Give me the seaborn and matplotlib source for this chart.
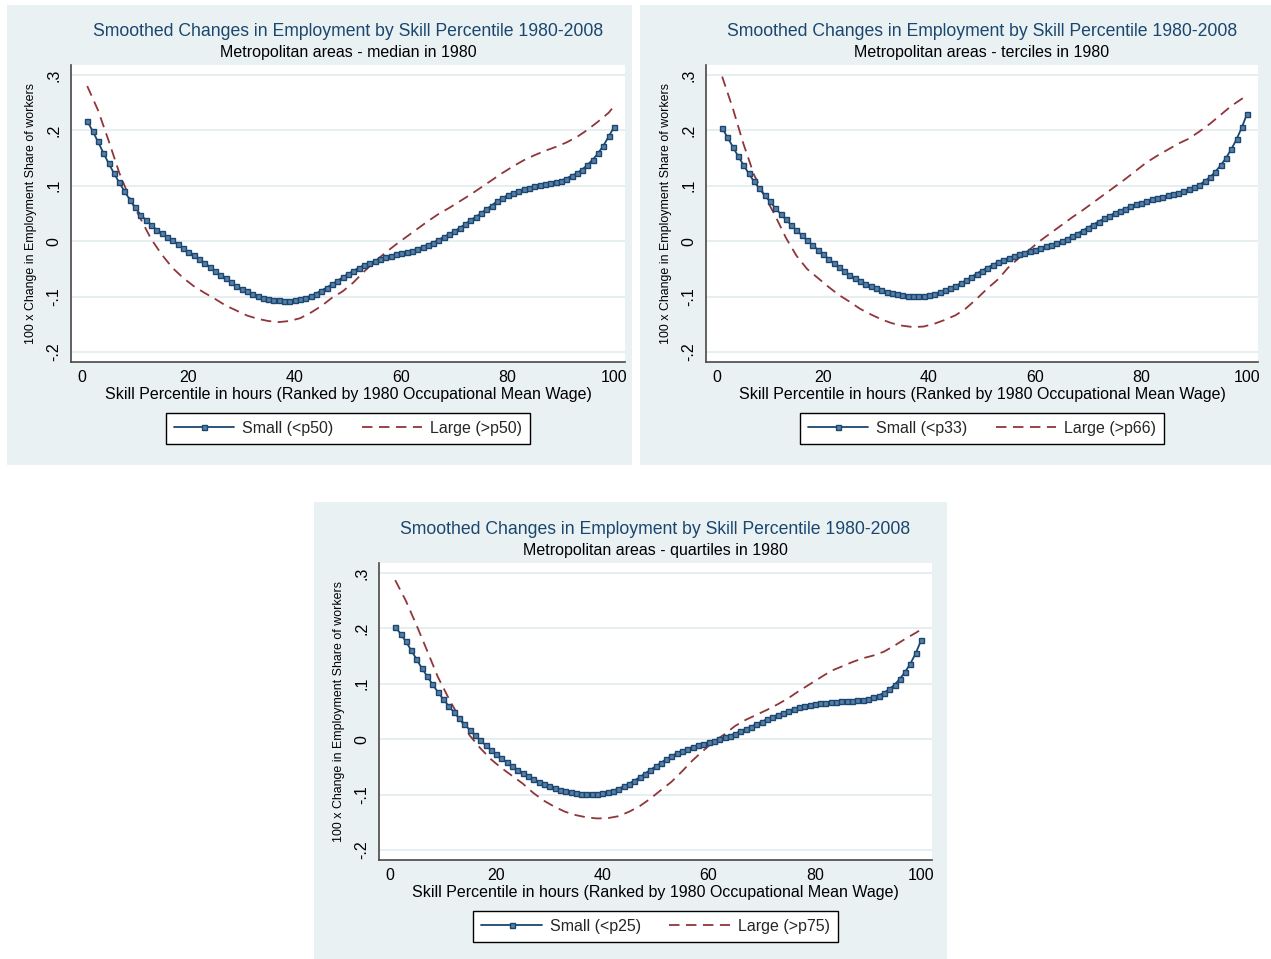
import matplotlib
matplotlib.use("Agg")
import matplotlib.pyplot as plt
import pandas as pd
import seaborn as sns
from matplotlib.patches import Rectangle
from matplotlib.lines import Line2D

sns.set_theme(style="white")
plt.rcParams['font.family'] = ['Liberation Sans', 'DejaVu Sans']

# Skill percentiles (x values)
pct_small = list(range(1, 101))
pct_large = list(range(1, 100, 2)) + [100]

# Metropolitan areas split at the 1980 median
small_p50 = [
    0.217, 0.199, 0.180, 0.160, 0.141, 0.123, 0.106, 0.090, 0.075, 0.061,
    0.048, 0.0385, 0.0295, 0.021, 0.014, 0.0072, 0.0018, -0.0048, -0.012, -0.0187,
    -0.0247, -0.032, -0.039, -0.046, -0.0536, -0.061, -0.067, -0.074, -0.0806, -0.0855,
    -0.090, -0.0945, -0.098, -0.1017, -0.104, -0.106, -0.107, -0.1077, -0.1077, -0.1065,
    -0.1047, -0.1017, -0.0987, -0.0945, -0.089, -0.0836, -0.0776, -0.0716, -0.065, -0.0593,
    -0.0536, -0.048, -0.0433, -0.0397, -0.036, -0.0325, -0.0289, -0.0259, -0.0235, -0.0217,
    -0.0193, -0.0169, -0.0139, -0.0103, -0.006, -0.0024, 0.0024, 0.0078, 0.0126, 0.018,
    0.024, 0.0307, 0.0379, 0.0439, 0.0505, 0.0578, 0.0644, 0.0722, 0.0776, 0.083,
    0.0872, 0.0908, 0.0944, 0.0969, 0.0993, 0.1011, 0.1029, 0.1047, 0.107, 0.1095,
    0.1131, 0.118, 0.1227, 0.1294, 0.1378, 0.1474, 0.1588, 0.1727, 0.189, 0.2063,
]
large_p50 = [
    0.280, 0.237, 0.182, 0.124, 0.077, 0.041, 0.004, -0.024, -0.048, -0.066,
    -0.081, -0.093, -0.104, -0.116, -0.125, -0.134, -0.140, -0.144, -0.146, -0.144,
    -0.139, -0.129, -0.117, -0.102, -0.0905, -0.0746, -0.055, -0.037, -0.021, -0.006,
    0.008, 0.022, 0.036, 0.049, 0.060, 0.072, 0.084, 0.097, 0.110, 0.123,
    0.135, 0.146, 0.155, 0.163, 0.170, 0.178, 0.188, 0.201, 0.216, 0.232,
    0.244,
]

# Metropolitan areas split into 1980 terciles
small_p33 = [
    0.2042, 0.1874, 0.1705, 0.1536, 0.138, 0.1223, 0.1078, 0.0952, 0.0825, 0.0717,
    0.0602, 0.0494, 0.0392, 0.0295, 0.0199, 0.0108, 0.0018, -0.0066, -0.015, -0.0235,
    -0.0313, -0.0392, -0.0464, -0.0536, -0.0609, -0.0663, -0.0717, -0.0771, -0.0813, -0.0849,
    -0.0886, -0.0916, -0.094, -0.0958, -0.0976, -0.0982, -0.0988, -0.0988, -0.0982, -0.0968,
    -0.0946, -0.0922, -0.0886, -0.0849, -0.0807, -0.0759, -0.0705, -0.0645, -0.0584, -0.053,
    -0.0476, -0.0428, -0.038, -0.0337, -0.0301, -0.0271, -0.0235, -0.0205, -0.0181, -0.0151,
    -0.012, -0.009, -0.0066, -0.0036, 0.0, 0.0042, 0.009, 0.0139, 0.0193, 0.0247,
    0.0301, 0.0355, 0.041, 0.0458, 0.0506, 0.0548, 0.059, 0.0627, 0.0663, 0.0693,
    0.0723, 0.0753, 0.0777, 0.0801, 0.0825, 0.0849, 0.0874, 0.0904, 0.0934, 0.097,
    0.1018, 0.1084, 0.1157, 0.1253, 0.1368, 0.150, 0.1657, 0.1838, 0.2054, 0.2301,
]
large_p66 = [
    0.297, 0.240, 0.176, 0.120, 0.082, 0.046, 0.0065, -0.026, -0.050, -0.066,
    -0.082, -0.097, -0.109, -0.122, -0.132, -0.141, -0.148, -0.1525, -0.155, -0.154,
    -0.149, -0.142, -0.1337, -0.121, -0.104, -0.0855, -0.069, -0.047, -0.030, -0.015,
    0.001, 0.015, 0.029, 0.043, 0.056, 0.070, 0.084, 0.098, 0.112, 0.127,
    0.142, 0.154, 0.165, 0.176, 0.185, 0.198, 0.212, 0.228, 0.244, 0.257,
    0.262,
]

# Metropolitan areas split into 1980 quartiles
small_p25 = [
    0.203, 0.1903, 0.1764, 0.1608, 0.1446, 0.1283, 0.1139, 0.0994, 0.0855, 0.0728,
    0.0608, 0.0493, 0.038, 0.0282, 0.0168, 0.0072, -0.0018, -0.0108, -0.0193, -0.0271,
    -0.0343, -0.0416, -0.0482, -0.0549, -0.0609, -0.0663, -0.0717, -0.0766, -0.0813, -0.085,
    -0.0886, -0.0916, -0.094, -0.0958, -0.0976, -0.0988, -0.0994, -0.0994, -0.0988, -0.0976,
    -0.0952, -0.0928, -0.0893, -0.085, -0.0802, -0.0748, -0.0687, -0.0621, -0.0555, -0.0492,
    -0.0428, -0.0361, -0.0307, -0.0253, -0.0211, -0.0175, -0.0139, -0.0108, -0.0079, -0.0054,
    -0.0031, 0.0, 0.0036, 0.0065, 0.0101, 0.0145, 0.0186, 0.0228, 0.0271, 0.0318,
    0.0361, 0.0403, 0.0439, 0.0475, 0.0511, 0.0548, 0.0578, 0.0602, 0.062, 0.0638,
    0.0651, 0.0662, 0.0674, 0.068, 0.0687, 0.0692, 0.0698, 0.0705, 0.0716, 0.0734,
    0.0759, 0.0788, 0.0837, 0.0904, 0.0981, 0.109, 0.1216, 0.1366, 0.1554, 0.1782,
]
large_p75 = [
    0.287, 0.250, 0.206, 0.160, 0.113, 0.075, 0.040, 0.007, -0.016, -0.036,
    -0.052, -0.066, -0.080, -0.097, -0.111, -0.122, -0.131, -0.137, -0.141, -0.143,
    -0.1425, -0.139, -0.131, -0.121, -0.1075, -0.092, -0.077, -0.058, -0.038, -0.0206,
    -0.004, 0.009, 0.024, 0.035, 0.044, 0.053, 0.063, 0.074, 0.087, 0.099,
    0.111, 0.123, 0.131, 0.139, 0.146, 0.151, 0.158, 0.169, 0.181, 0.192,
    0.198,
]

title_text = "Smoothed Changes in Employment by Skill Percentile 1980-2008"
subtitles = ["Metropolitan areas - median in 1980",
             "Metropolitan areas - terciles in 1980",
             "Metropolitan areas - quartiles in 1980"]
small_labels = ["Small (<p50)", "Small (<p33)", "Small (<p25)"]
large_labels = ["Large (>p50)", "Large (>p66)", "Large (>p75)"]
x_title = "Skill Percentile in hours (Ranked by 1980 Occupational Mean Wage)"
y_title = "100 x Change in Employment Share of workers"
x_ticks = [0, 20, 40, 60, 80, 100]
y_ticks = [-0.2, -0.1, 0.0, 0.1, 0.2, 0.3]
y_ticklabels = ["-.2", "-.1", "0", ".1", ".2", ".3"]

NAVY = "#1a476f"
MAROON = "#90353b"
MARKER_FACE = "#5a7ea6"
BG = "#eaf1f3"
GRID = "#e6eef0"
AXIS = "#484848"

W, H = 1271, 959
fig = plt.figure(figsize=(W / 100, H / 100), dpi=100, facecolor="white")


def fx(px):
    return px / W


def fy(py):
    return 1 - py / H


# pixel layout of each graph: background box and plot region (left, top, right, bottom)
layouts = [
    dict(bg=(7, 5, 632, 465), plot=(71, 65, 625, 362)),
    dict(bg=(640, 5, 1271, 465), plot=(706, 65, 1258, 362)),
    dict(bg=(314, 502, 947, 959), plot=(379, 563, 932, 860)),
]
series = [
    (small_p50, large_p50),
    (small_p33, large_p66),
    (small_p25, large_p75),
]

for i, (lay, (small, large)) in enumerate(zip(layouts, series)):
    bx0, by0, bx1, by1 = lay["bg"]
    fig.patches.append(Rectangle((fx(bx0), fy(by1)), (bx1 - bx0) / W, (by1 - by0) / H,
                                 transform=fig.transFigure, facecolor=BG,
                                 edgecolor="none", zorder=-5))
    l, t, r, b = lay["plot"]
    ax = fig.add_axes([fx(l), fy(b), (r - l) / W, (b - t) / H])
    ax.set_zorder(2)
    ax.set_facecolor("white")

    df_small = pd.DataFrame({"pct": pct_small, "val": small})
    df_large = pd.DataFrame({"pct": pct_large, "val": large})

    sns.lineplot(data=df_large, x="pct", y="val", ax=ax, color=MAROON,
                 linewidth=1.3, legend=False, zorder=3)
    ax.lines[-1].set_dashes([5.8, 3.6])
    sns.lineplot(data=df_small, x="pct", y="val", ax=ax, color=NAVY,
                 linewidth=1.3, marker="s", markersize=3.6,
                 markerfacecolor=MARKER_FACE, markeredgecolor=NAVY,
                 markeredgewidth=1.0, legend=False, zorder=4)

    ax.set_xlim(-2.05, 102.05)
    ax.set_ylim(-0.218, 0.318)
    ax.set_xticks(x_ticks)
    ax.set_xticklabels([str(v) for v in x_ticks], fontsize=11.5)
    ax.set_yticks(y_ticks)
    ax.set_yticklabels(y_ticklabels, fontsize=11.5, rotation=90, va="center")
    ax.tick_params(axis="both", direction="out", length=3.5, width=1.0,
                   color=AXIS, labelcolor="black")
    ax.tick_params(axis="x", pad=2.5)
    ax.tick_params(axis="y", pad=3.5)
    ax.set_xlabel("")
    ax.set_ylabel("")
    ax.yaxis.grid(True, color=GRID, linewidth=1.4)
    ax.xaxis.grid(False)
    ax.set_axisbelow(True)
    for side in ("top", "right"):
        ax.spines[side].set_visible(False)
    for side in ("left", "bottom"):
        ax.spines[side].set_color(AXIS)
        ax.spines[side].set_linewidth(1.2)

    cx = (l + r) / 2
    fig.text(fx(cx), fy(t - 34), title_text, ha="center", va="center",
             fontsize=12.7, color=NAVY)
    fig.text(fx(cx), fy(t - 12), subtitles[i], ha="center", va="center",
             fontsize=11.5, color="black")
    fig.text(fx(cx), fy(b + 32.5), x_title, ha="center", va="center",
             fontsize=11.5, color="black")
    fig.text(fx(l - 40), fy((t + b) / 2), y_title, ha="center", va="center",
             rotation=90, fontsize=8.9, color="black")

    handles = [
        Line2D([], [], color=NAVY, linewidth=1.3, marker="s", markersize=3.6,
               markerfacecolor=MARKER_FACE, markeredgecolor=NAVY, markeredgewidth=1.0),
        Line2D([], [], color=MAROON, linewidth=1.3, dashes=[5.8, 3.6]),
    ]
    leg = fig.legend(handles, [small_labels[i], large_labels[i]], loc="center",
                     bbox_to_anchor=(fx(cx), fy(b + 66.5)), ncol=2, fontsize=11.5,
                     frameon=True, fancybox=False, shadow=False, framealpha=1,
                     edgecolor="black", handlelength=3.8, handletextpad=0.5,
                     columnspacing=1.75, borderpad=0.5, borderaxespad=0)
    leg.get_frame().set_linewidth(1.0)

fig.savefig("out.png", dpi=100, facecolor="white")
